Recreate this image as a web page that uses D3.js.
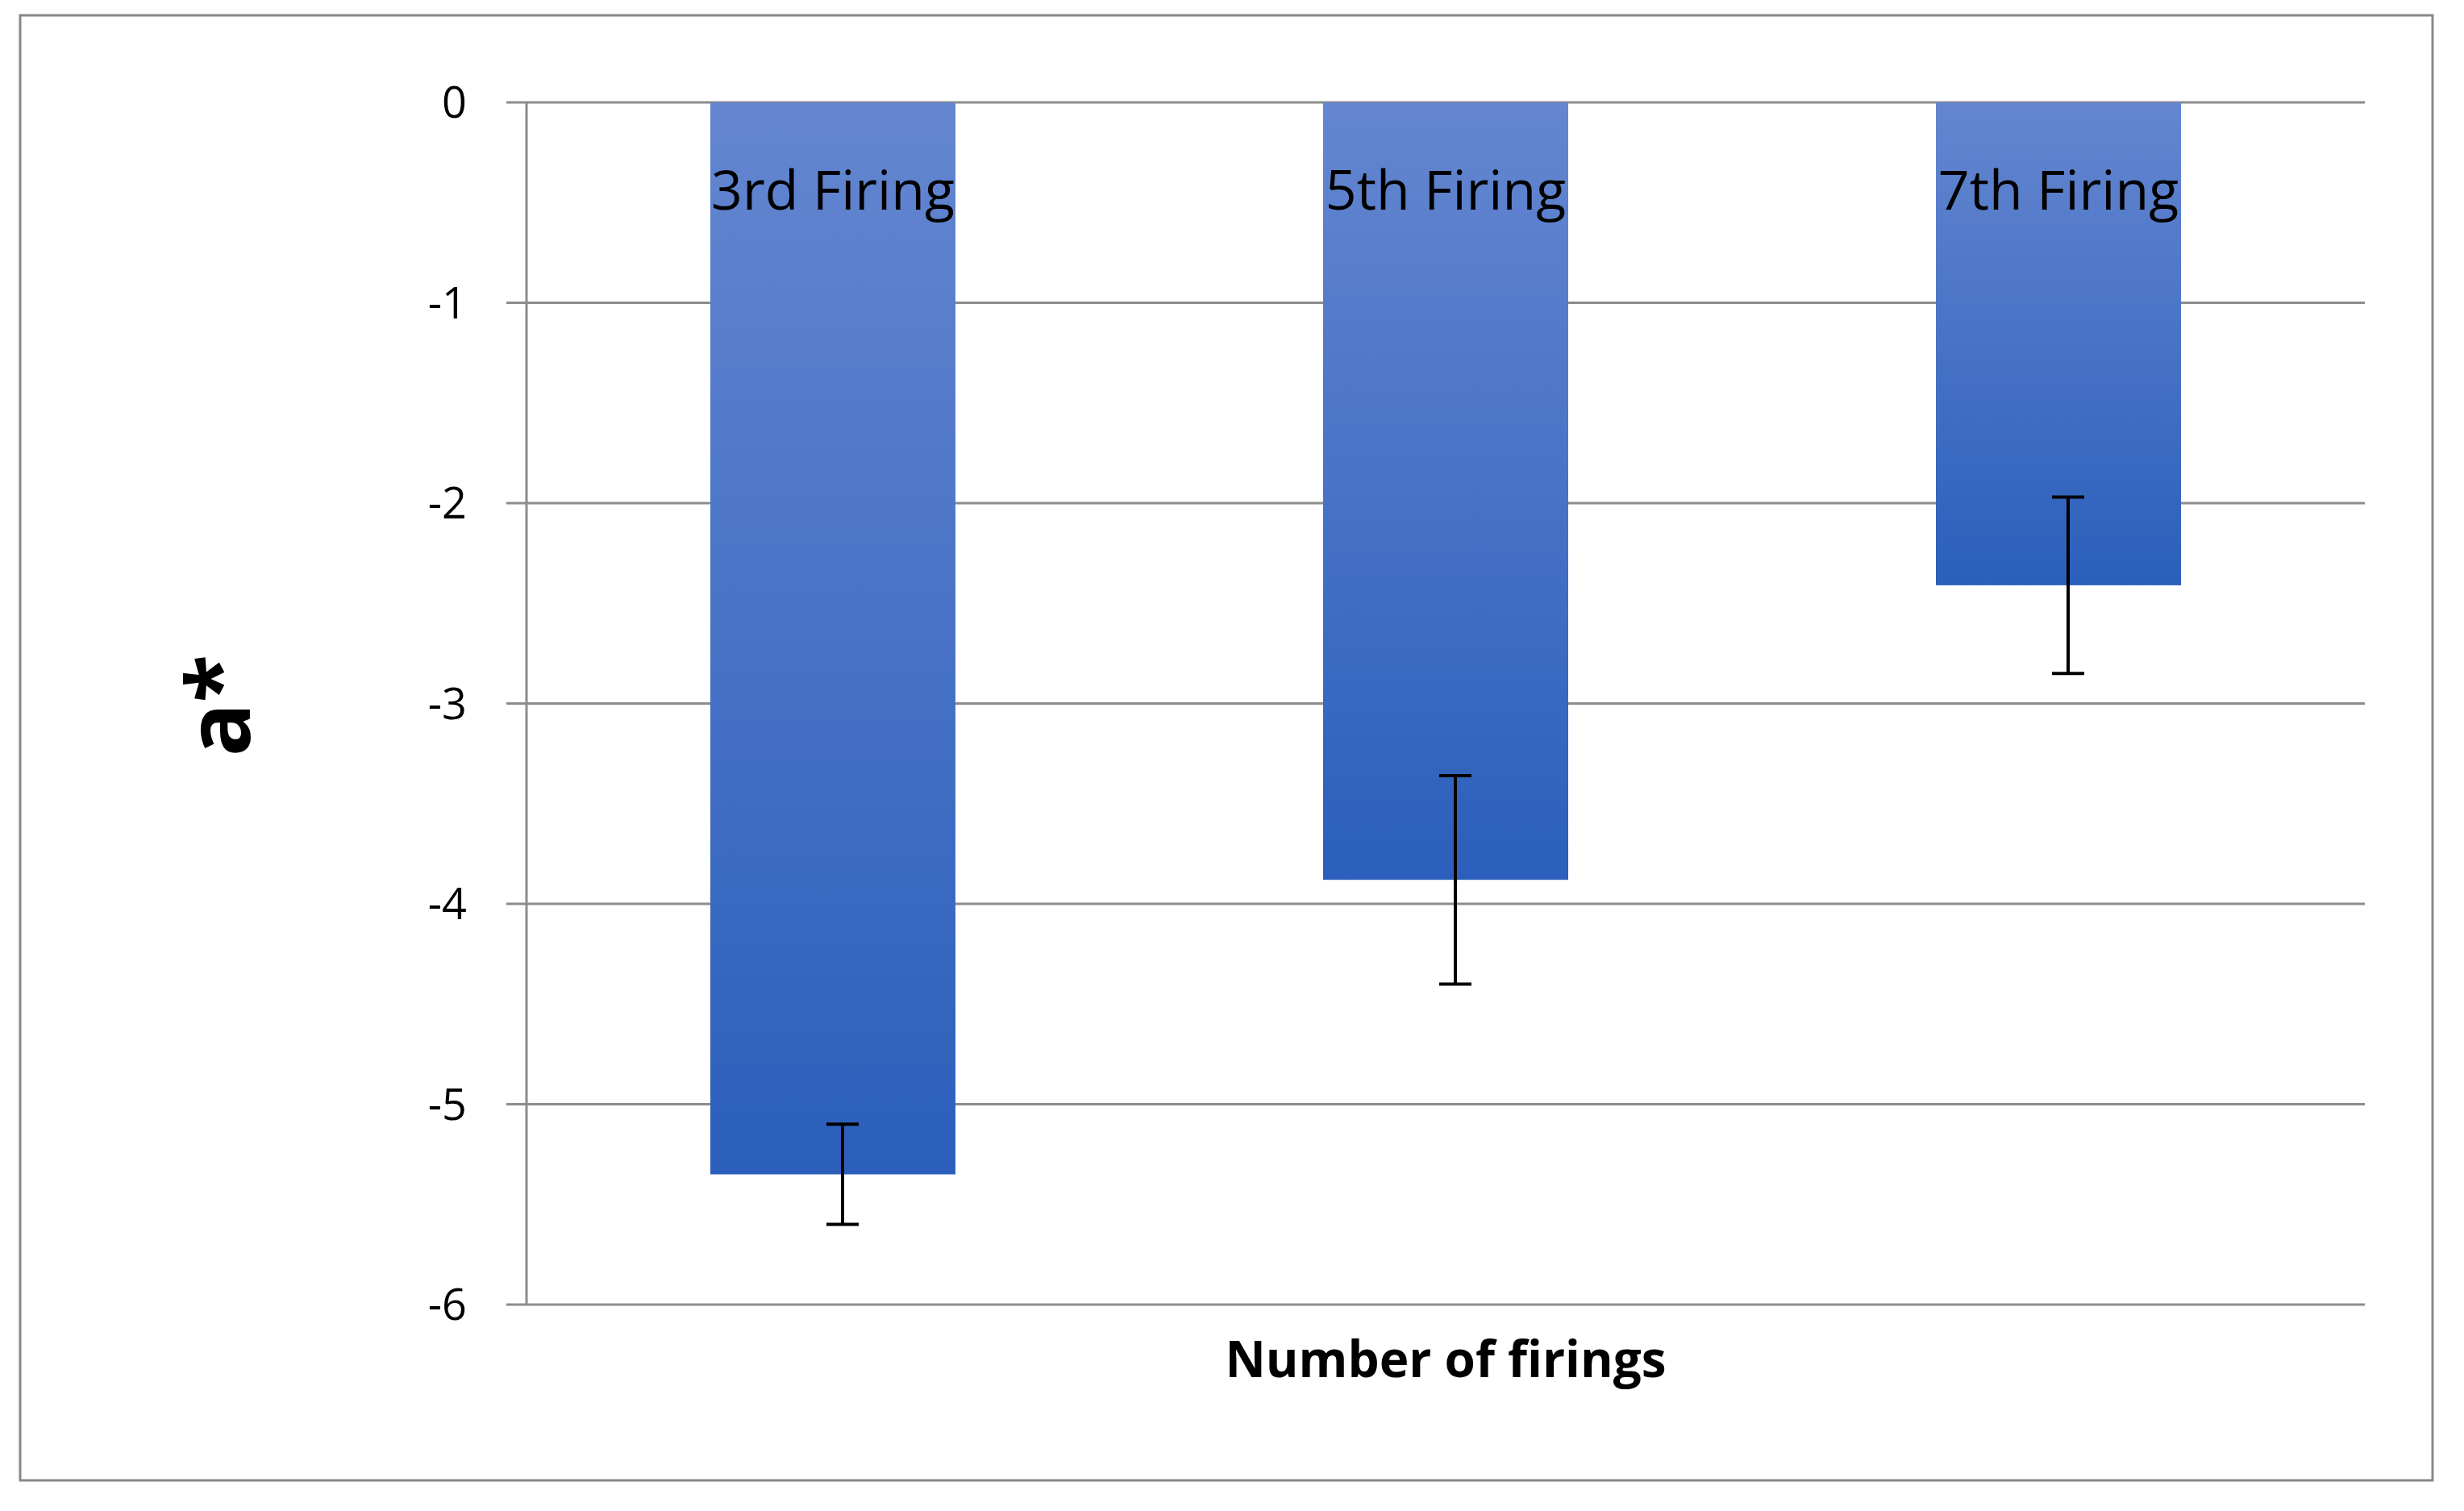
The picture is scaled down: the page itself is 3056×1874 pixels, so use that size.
<!DOCTYPE html>
<html><head><meta charset="utf-8">
<script src="https://cdn.jsdelivr.net/npm/d3@7"></script>
<style>body{margin:0;background:#fff}</style></head>
<body><svg id="c" width="3056" height="1874"></svg>
<script>
const categories = ["3rd Firing","5th Firing","7th Firing"];
const values = [-5.35,-3.88,-2.41];
const errors = [0.25,0.52,0.44];
const ticks = [0,-1,-2,-3,-4,-5,-6];

const svg = d3.select("#c");
const font = "'Open Sans', 'Noto Sans', sans-serif";
svg.append("rect").attr("x",25).attr("y",19).attr("width",2992).attr("height",1817)
  .attr("fill","#fff").attr("stroke","#888").attr("stroke-width",3);

const L=653,R=2933,T=127,B=1618;
const x = d3.scaleBand().domain(categories).range([L,R]).paddingInner(0.6).paddingOuter(0.3);
const y = d3.scaleLinear().domain([-6,0]).range([B,T]);

const defs = svg.append("defs");
const g = defs.append("linearGradient").attr("id","bg").attr("x1",0).attr("y1",0).attr("x2",0).attr("y2",1);
g.append("stop").attr("offset","0%").attr("stop-color","#6486d0");
g.append("stop").attr("offset","100%").attr("stop-color","#2b5fbb");

// gridlines
svg.append("g").selectAll("line").data(ticks).join("line")
  .attr("x1",L-25).attr("x2",R).attr("y1",d=>y(d)).attr("y2",d=>y(d))
  .attr("stroke","#8c8c8c").attr("stroke-width",3);
svg.append("line").attr("x1",L).attr("x2",L).attr("y1",T).attr("y2",B).attr("stroke","#8c8c8c").attr("stroke-width",3);

svg.append("g").selectAll("text").data(ticks).join("text")
  .attr("x",579).attr("y",d=>y(d)).attr("dy","0.36em").attr("text-anchor","end")
  .attr("font-family",font).attr("font-size",54).attr("fill","#000").text(d=>d===0?"0":"-"+Math.abs(d));

svg.append("g").selectAll("rect").data(categories).join("rect")
  .attr("x",d=>x(d)).attr("width",x.bandwidth())
  .attr("y",y(0)).attr("height",(d,i)=>y(values[i])-y(0)).attr("fill","url(#bg)");

svg.append("g").selectAll("text").data(categories).join("text")
  .attr("x",d=>x(d)+x.bandwidth()/2).attr("y",236).attr("dy","0.36em").attr("text-anchor","middle")
  .attr("font-family",font).attr("font-size",68).attr("fill","#000").text(d=>d);

const eb = svg.append("g").attr("stroke","#000").attr("stroke-width",4);
categories.forEach((c,i)=>{
  const cx = x(c)+x.bandwidth()/2+12;
  const y1=y(values[i]+errors[i]), y2=y(values[i]-errors[i]);
  eb.append("line").attr("x1",cx).attr("x2",cx).attr("y1",y1).attr("y2",y2);
  eb.append("line").attr("x1",cx-20).attr("x2",cx+20).attr("y1",y1).attr("y2",y1);
  eb.append("line").attr("x1",cx-20).attr("x2",cx+20).attr("y1",y2).attr("y2",y2);
});

svg.append("text").attr("x",(L+R)/2).attr("y",1686).attr("dy","0.36em").attr("text-anchor","middle")
  .attr("font-family",font).attr("font-weight","bold").attr("font-size",62).text("Number of firings");
svg.append("text").attr("transform","translate(270,875) rotate(-90)").attr("text-anchor","middle").attr("dy","0.36em")
  .attr("font-family",font).attr("font-weight","bold").attr("font-size",110).text("a*");
</script></body></html>
